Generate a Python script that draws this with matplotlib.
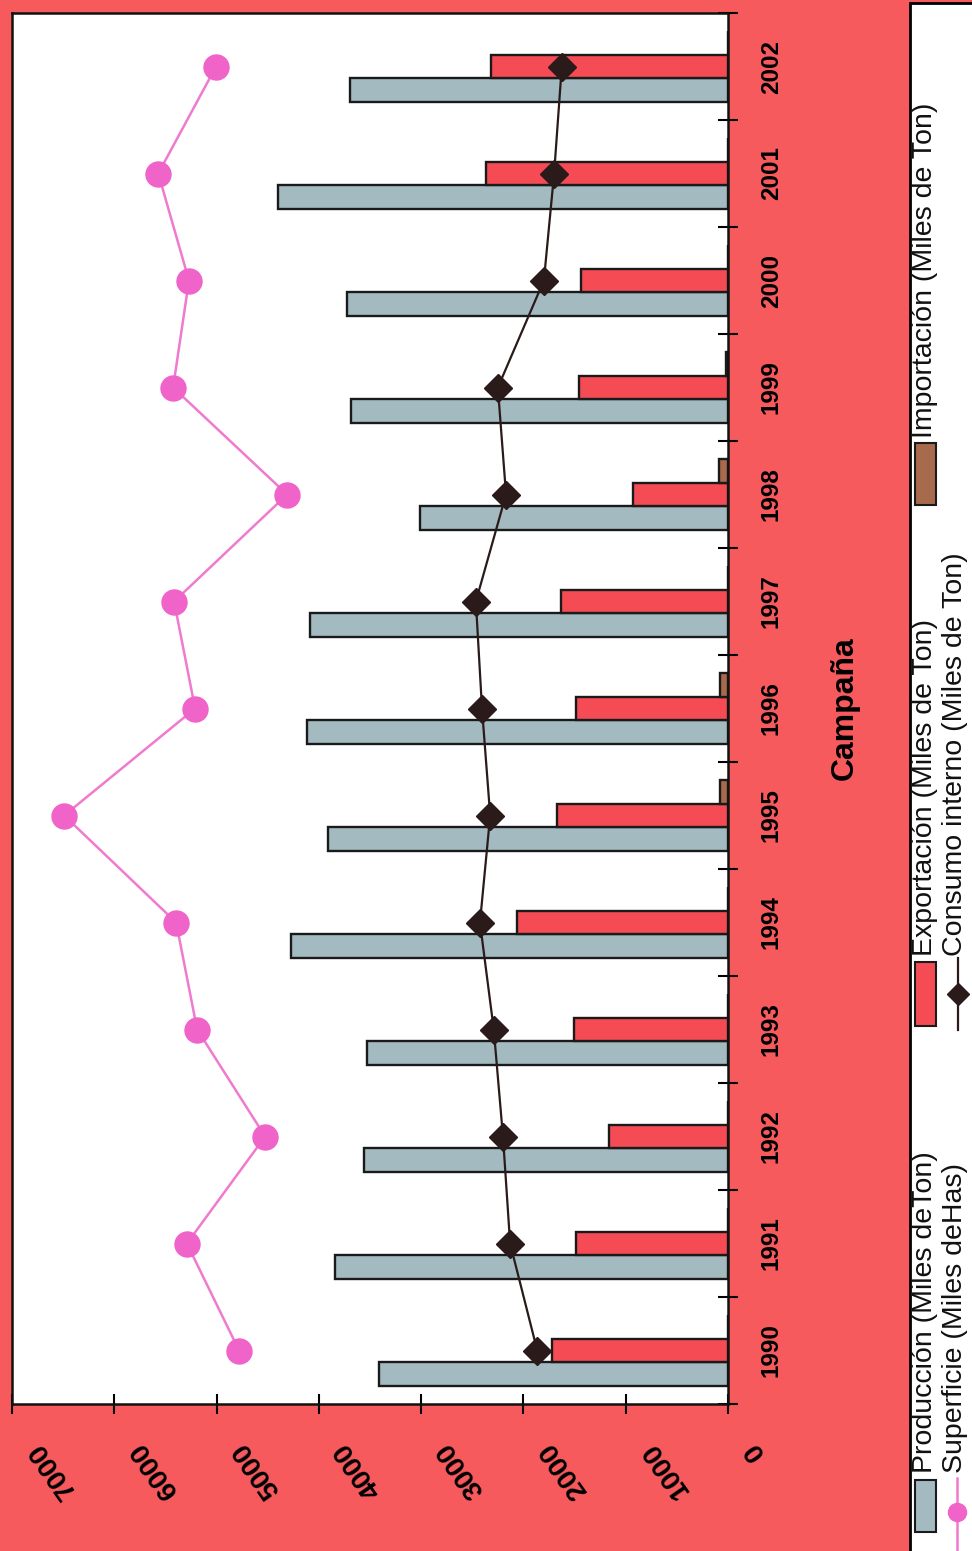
import numpy as np
import matplotlib
matplotlib.use('Agg')
import matplotlib.pyplot as plt
from matplotlib.patches import Rectangle
from matplotlib.lines import Line2D
from matplotlib.transforms import ScaledTranslation

# datos (miles)
anios = ['1990', '1991', '1992', '1993', '1994', '1995', '1996',
         '1997', '1998', '1999', '2000', '2001', '2002']
produccion = [3410, 3840, 3560, 3530, 4270, 3910, 4115, 4085, 3010, 3685, 3725, 4400, 3695]
exportacion = [1720, 1485, 1165, 1505, 2065, 1670, 1485, 1635, 930, 1455, 1440, 2365, 2315]
importacion = [0, 0, 0, 0, 0, 80, 80, 0, 90, 15, 0, 0, 0]
consumo = [1865, 2130, 2200, 2290, 2425, 2325, 2405, 2465, 2170, 2250, 1800, 1700, 1625]
superficie = [4780, 5290, 4525, 5190, 5395, 6490, 5210, 5415, 4310, 5425, 5270, 5570, 5005]
valores = [0, 1000, 2000, 3000, 4000, 5000, 6000, 7000]

plt.rcParams['font.family'] = ['Liberation Sans', 'DejaVu Sans']

W, H = 972, 1551
fondo = '#F65A5C'
gris = '#A3BAC1'
rojo = '#F44B55'
marron = '#A86A4C'
rosa = '#F063C9'
negro = '#2A1A1A'
narrow = ['Liberation Sans Narrow', 'Liberation Sans', 'DejaVu Sans']

def fx(x):
    return x / W

def fy(y):
    return 1 - y / H

fig = plt.figure(figsize=(W / 100, H / 100), dpi=100, facecolor=fondo)
ax = fig.add_axes([fx(12), fy(1404), fx(728) - fx(12), fy(13) - fy(1404)])
ax.set_facecolor('white')

pos = np.arange(len(anios))
alto = 0.22
ax.barh(pos - alto, produccion, height=alto, color=gris, edgecolor='#1A1A1A', linewidth=1.7, zorder=2)
ax.barh(pos, exportacion, height=alto, color=rojo, edgecolor='#1A1A1A', linewidth=1.7, zorder=2)
ax.barh(pos + alto, importacion, height=alto, color=marron, edgecolor='#1A1A1A', linewidth=1.7, zorder=2)
ax.plot(superficie, pos, color='#F07ACD', lw=1.8, marker='o', ms=18, mfc=rosa, mec=rosa, zorder=4)
ax.plot(consumo, pos, color=negro, lw=1.6, marker='D', ms=14, mfc=negro, mec=negro, zorder=5)

ax.set_xlim(7000, 0)
ax.set_ylim(-0.5, len(anios) - 0.5)

# eje de campañas a la derecha
ax.yaxis.tick_right()
ax.set_yticks(pos, anios, rotation=90, va='center', fontsize=17.5, fontweight='bold', family=narrow)
ax.set_yticks(np.arange(-0.5, len(anios), 1), minor=True)
ax.tick_params(axis='y', which='major', length=0, pad=23)
ax.tick_params(axis='y', which='minor', length=15, width=1.5, direction='inout')
ax.set_ylabel('Campaña', fontsize=23, fontweight='bold', rotation=90)
ax.yaxis.set_label_position('right')
ax.yaxis.set_label_coords(1.142, 0.5)

ax.set_xticks(valores, [str(v) for v in valores], rotation=125, rotation_mode='anchor',
              ha='right', va='center', fontsize=20, fontweight='bold')
ax.tick_params(axis='x', direction='inout', length=14, width=1.5, pad=22)
for t in ax.xaxis.get_major_ticks():
    t.label1.set_transform(t.label1.get_transform() + ScaledTranslation(0.22, 0, fig.dpi_scale_trans))

for s in ax.spines.values():
    s.set_linewidth(1.8)
    s.set_color('#111111')

# leyenda girada
fig.add_artist(Rectangle((fx(910), -0.01), 1.0, fy(3) + 0.01, transform=fig.transFigure,
                         facecolor='white', edgecolor='black', lw=2))
for y0, y1, c in [(1480, 1532, gris), (962, 1026, rojo), (443, 505, marron)]:
    fig.add_artist(Rectangle((fx(915), fy(y1)), fx(936) - fx(915), fy(y0) - fy(y1),
                             transform=fig.transFigure, facecolor=c, edgecolor='#1A1A1A', lw=1.5))
fig.add_artist(Line2D([fx(957), fx(957)], [fy(1550), fy(1478)], transform=fig.transFigure,
                      color='#F07ACD', lw=1.8))
fig.add_artist(Line2D([fx(957)], [fy(1512)], transform=fig.transFigure, marker='o', ms=13,
                      mfc=rosa, mec=rosa, ls='none'))
fig.add_artist(Line2D([fx(958), fx(958)], [fy(1030), fy(958)], transform=fig.transFigure,
                      color=negro, lw=1.6))
fig.add_artist(Line2D([fx(958)], [fy(994)], transform=fig.transFigure, marker='D', ms=11,
                      mfc=negro, mec=negro, ls='none'))

textos = [(932, 1473, 'Producción (Miles deTon)'),
          (932, 956, 'Exportación (Miles de Ton)'),
          (932, 438, 'Importación (Miles de Ton)'),
          (962, 1473, 'Superficie (Miles deHas)'),
          (962, 956, 'Consumo interno (Miles de Ton)')]
for x, y, t in textos:
    fig.text(fx(x), fy(y), t, rotation=90, rotation_mode='anchor', ha='left', va='baseline',
             fontsize=20.5, color='#111111')

fig.savefig('out.png', dpi=100, facecolor=fondo)
